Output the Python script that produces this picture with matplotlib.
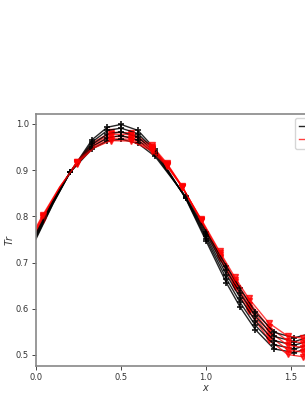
import matplotlib
matplotlib.use("Agg")
import matplotlib.pyplot as plt

x_black = [0.0, 0.1, 0.2, 0.33, 0.42, 0.5, 0.6, 0.7, 0.8, 0.88, 1.0, 1.12, 1.2, 1.29, 1.4, 1.52, 1.6, 1.7]
black_series = [
    [.751, .827, .895, .966, .993, .999, .986, .946, .886, .839, .747, .656, .604, .555, .513, .505, .515, .546],
    [.754, .828, .895, .961, .986, .991, .979, .942, .885, .840, .752, .665, .614, .564, .522, .513, .522, .553],
    [.757, .830, .895, .956, .978, .983, .972, .938, .884, .841, .757, .674, .624, .574, .531, .521, .530, .560],
    [.760, .832, .895, .951, .970, .975, .965, .934, .883, .842, .762, .683, .634, .584, .540, .529, .538, .567],
    [.763, .833, .895, .946, .963, .967, .958, .930, .882, .843, .767, .692, .644, .593, .549, .537, .545, .574],
]
x_red = [0.0, 0.04, 0.14, 0.24, 0.34, 0.44, 0.56, 0.68, 0.77, 0.86, 0.97, 1.08, 1.17, 1.25, 1.37, 1.48, 1.57, 1.7]
red_series = [
    [.764, .793, .860, .918, .961, .982, .981, .954, .915, .865, .789, .710, .646, .595, .533, .501, .496, .521],
    [.767, .796, .861, .917, .957, .978, .977, .951, .913, .864, .791, .713, .652, .602, .542, .511, .506, .531],
    [.770, .798, .862, .916, .954, .973, .972, .948, .912, .864, .792, .717, .657, .609, .551, .521, .516, .540],
    [.773, .800, .863, .915, .951, .968, .967, .945, .911, .864, .793, .721, .662, .616, .560, .531, .526, .550],
    [.776, .803, .864, .914, .948, .964, .963, .942, .909, .863, .795, .724, .668, .623, .569, .541, .536, .559],
]
legend_labels = ["Tr model", "Tr data"]
xticks = [0.0, 0.5, 1.0, 1.5]
yticks = [0.5, 0.6, 0.7, 0.8, 0.9, 1.0]

W, H = 305, 394
fig = plt.figure(figsize=(W / 100, H / 100), dpi=100)
ax_left, ax_bottom, ax_top = 36, 366, 114
ax_w = 340
ax = fig.add_axes([ax_left / W, 1 - ax_bottom / H, ax_w / W, (ax_bottom - ax_top) / H])

black_marks = [i for i in range(len(x_black)) if x_black[i] not in (0.0, 0.1, 0.8, 1.7)]
red_marks = [i for i in range(len(x_red)) if x_red[i] not in (0.0, 0.14, 0.34, 1.7)]
handles = []
for b, r in zip(black_series, red_series):
    hb, = ax.plot(x_black, b, color="k", alpha=0.85, lw=1.0, marker="+", ms=5,
                  mew=1.3, mec="k", markevery=black_marks)
    hr, = ax.plot(x_red, r, color="red", alpha=0.75, lw=1.0, marker="v", ms=5,
                  mec="red", mfc="red", markevery=red_marks)
    handles.append((hb, hr))

ax.set_xlim(0, 2.0)
ax.set_ylim(0.476, 1.0216)
ax.set_xticks(xticks)
ax.set_yticks(yticks)
ax.tick_params(labelsize=6, length=3, width=0.7, colors="#444444", labelcolor="#333333", pad=2)
for s in ax.spines.values():
    s.set_color("#888888")
    s.set_linewidth(1.2)
ax.set_xlabel("$x$", fontsize=7, color="#333333", labelpad=1)
ax.set_ylabel("$Tr$", fontsize=7, color="#333333", labelpad=0.5)

fig.legend([handles[0][0], handles[0][1]], legend_labels, loc="upper left",
           bbox_to_anchor=(295 / W, 1 - 118 / H), fontsize=6, frameon=True,
           handlelength=2.0, borderpad=0.5, borderaxespad=0)

fig.savefig("out.png", dpi=100)
